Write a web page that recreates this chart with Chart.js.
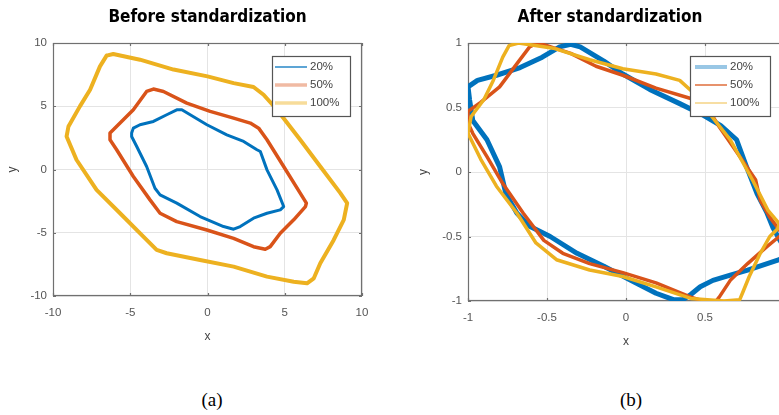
<!DOCTYPE html>
<html>
<head>
<meta charset="utf-8">
<script src="https://cdn.jsdelivr.net/npm/chart.js@4"></script>
<style>
  html, body { margin: 0; padding: 0; width: 779px; height: 415px; overflow: hidden; background: #fff; }
  #wrap { position: relative; width: 779px; height: 415px; overflow: hidden; }
  canvas { position: absolute; top: 0; }
  #left { left: 0; }
  #right { left: 390px; }
  .caption { position: absolute; top: 389px; line-height: 22px; font-family: "Liberation Serif", serif; font-size: 19px; color: #000; transform: translateX(-50%); }
</style>
</head>
<body>
<div id="wrap">
  <canvas id="left" width="390" height="360"></canvas>
  <canvas id="right" width="440" height="360"></canvas>
  <div class="caption" id="capA" style="left:212px"></div>
  <div class="caption" id="capB" style="left:631px"></div>
</div>
<script>
// series
const seriesLabels = ["20%", "50%", "100%"];
const seriesColors = ["#0072BD", "#D95319", "#EDB120"];
const panelTitles = ["Before standardization", "After standardization"];
const panelCaptions = ["(a)", "(b)"];

// ticks
const beforeTicks = [-10, -5, 0, 5, 10];
const afterTicks = [-1, -0.5, 0, 0.5, 1];

// closed trajectories, raw
const before20 = [[-4.91,2.88],[-4.8,3.27],[-4.37,3.54],[-3.5,3.8],[-2.64,4.33],[-1.99,4.72],[-1.66,4.72],[-1.12,4.33],[-0.04,3.54],[1.25,2.74],[2.34,2.22],[3.2,1.56],[3.42,1.42],[3.85,-0.03],[4.5,-1.61],[4.93,-2.93],[4.71,-3.19],[3.85,-3.46],[2.98,-3.85],[2.12,-4.51],[1.69,-4.72],[1.04,-4.51],[-0.48,-3.72],[-1.99,-2.66],[-3.07,-2.0],[-3.4,-1.48],[-3.94,0.24],[-4.58,1.82],[-4.91,2.61],[-4.91,2.88]];
const before50 = [[-6.31,2.88],[-5.66,3.67],[-4.8,4.72],[-3.94,6.17],[-3.5,6.36],[-2.85,6.17],[-1.34,5.25],[0.17,4.59],[1.69,4.06],[2.77,3.67],[3.31,3.27],[3.85,2.35],[4.93,0.24],[6.0,-1.87],[6.4,-2.66],[6.34,-2.93],[5.58,-3.98],[4.71,-5.04],[4.06,-6.1],[3.74,-6.3],[2.98,-6.1],[1.69,-5.44],[-0.04,-4.78],[-1.99,-4.12],[-3.07,-3.46],[-3.72,-2.4],[-4.8,-0.55],[-5.88,1.56],[-6.31,2.35],[-6.31,2.88]];
const before100 = [[-6.53,9.0],[-6.1,9.13],[-4.37,8.68],[-2.2,7.9],[0,7.36],[1.69,6.83],[2.98,6.52],[3.63,5.91],[4.5,4.72],[6.0,2.35],[7.3,0.24],[8.6,-1.87],[9.04,-2.66],[8.82,-3.98],[8.17,-5.57],[7.3,-7.41],[6.88,-8.6],[6.44,-9.0],[5.58,-8.87],[3.85,-8.47],[1.69,-7.68],[-0.48,-7.15],[-2.64,-6.62],[-3.29,-6.36],[-4.15,-5.3],[-5.66,-3.46],[-7.18,-1.61],[-8.48,0.77],[-9.12,2.61],[-9.0,3.4],[-8.26,4.99],[-7.6,6.3],[-6.96,8.15],[-6.53,9.0]];

// closed trajectories, standardized
const after20 = [[-1.0,0.66],[-0.94,0.71],[-0.82,0.75],[-0.67,0.81],[-0.53,0.89],[-0.42,0.97],[-0.35,0.99],[-0.29,0.97],[-0.14,0.86],[-0.02,0.76],[0.15,0.64],[0.34,0.53],[0.49,0.44],[0.6,0.36],[0.7,0.25],[0.76,0.05],[0.83,-0.17],[0.89,-0.31],[0.93,-0.43],[0.97,-0.52],[1.0,-0.58],[1.0,-0.66],[0.97,-0.68],[0.87,-0.72],[0.77,-0.76],[0.66,-0.8],[0.55,-0.84],[0.47,-0.89],[0.41,-0.95],[0.36,-0.99],[0.3,-0.99],[0.19,-0.94],[0.03,-0.84],[-0.14,-0.73],[-0.31,-0.63],[-0.48,-0.5],[-0.61,-0.42],[-0.69,-0.32],[-0.76,-0.17],[-0.8,0.04],[-0.88,0.25],[-0.97,0.4],[-0.99,0.56],[-1.0,0.66]];
const after50 = [[-1.0,0.47],[-0.92,0.54],[-0.8,0.66],[-0.69,0.84],[-0.61,0.97],[-0.56,1.0],[-0.5,0.98],[-0.35,0.92],[-0.19,0.82],[-0.02,0.75],[0.19,0.65],[0.41,0.57],[0.51,0.51],[0.59,0.35],[0.72,0.12],[0.82,-0.06],[0.85,-0.22],[0.91,-0.35],[0.97,-0.45],[1.0,-0.48],[0.97,-0.5],[0.89,-0.58],[0.77,-0.71],[0.66,-0.84],[0.59,-0.97],[0.57,-1.0],[0.49,-1.0],[0.41,-0.97],[0.19,-0.86],[-0.02,-0.78],[-0.23,-0.71],[-0.4,-0.63],[-0.52,-0.53],[-0.65,-0.32],[-0.78,-0.09],[-0.88,0.12],[-0.97,0.3],[-1.0,0.38],[-1.0,0.47]];
const after100 = [[-1.0,0.3],[-0.98,0.43],[-0.9,0.56],[-0.84,0.71],[-0.78,0.89],[-0.74,0.98],[-0.68,1.0],[-0.46,0.96],[-0.23,0.87],[-0.02,0.8],[0.19,0.76],[0.34,0.71],[0.43,0.61],[0.53,0.45],[0.66,0.25],[0.8,-0.06],[0.9,-0.3],[0.97,-0.4],[0.96,-0.44],[0.91,-0.5],[0.85,-0.63],[0.78,-0.81],[0.74,-0.93],[0.72,-0.99],[0.62,-1.0],[0.41,-0.98],[0.19,-0.89],[-0.02,-0.81],[-0.23,-0.76],[-0.44,-0.68],[-0.57,-0.55],[-0.69,-0.32],[-0.82,-0.11],[-0.92,0.1],[-1.0,0.3]];

const tickFont = { family: '"Liberation Sans", Arial, sans-serif', size: 11.5 };
const tickColor = "#555";

// axes box with inward tick marks, under the curves
const framePlugin = {
  id: "frame",
  beforeDatasetsDraw(chart) {
    const { ctx, chartArea: a, scales: { x, y } } = chart;
    ctx.save();
    ctx.strokeStyle = "#707070";
    ctx.lineWidth = 1.2;
    ctx.strokeRect(a.left + 0.5, a.top + 0.5, a.width - 1, a.height - 1);
    ctx.beginPath();
    x.ticks.forEach((t) => {
      const px = Math.round(x.getPixelForValue(t.value)) + 0.5;
      ctx.moveTo(px, a.bottom); ctx.lineTo(px, a.bottom - 3);
      ctx.moveTo(px, a.top); ctx.lineTo(px, a.top + 3);
    });
    y.ticks.forEach((t) => {
      const py = Math.round(y.getPixelForValue(t.value)) + 0.5;
      ctx.moveTo(a.left, py); ctx.lineTo(a.left + 3, py);
      ctx.moveTo(a.right, py); ctx.lineTo(a.right - 3, py);
    });
    ctx.stroke();
    ctx.restore();
  },
};

// boxed legend in the top right corner of the axes
const legendPlugin = {
  id: "boxLegend",
  afterDatasetsDraw(chart, args, opts) {
    const { ctx, chartArea: a } = chart;
    const left = a.right - opts.inset - opts.width;
    const top = a.top + 13;
    ctx.save();
    ctx.fillStyle = "#fff";
    ctx.fillRect(left, top, opts.width, 61);
    ctx.strokeStyle = "#555";
    ctx.lineWidth = 1.2;
    ctx.strokeRect(left + 0.5, top + 0.5, opts.width - 1, 60);
    chart.data.datasets.forEach((ds, i) => {
      const yy = top + 11 + i * 18;
      ctx.globalAlpha = opts.alpha[i];
      ctx.strokeStyle = ds.borderColor;
      ctx.lineWidth = opts.widths[i];
      ctx.beginPath();
      ctx.moveTo(left + opts.lineStart, yy);
      ctx.lineTo(left + opts.lineStart + 32, yy);
      ctx.stroke();
      ctx.globalAlpha = 1;
      ctx.fillStyle = "#444";
      ctx.font = "11.5px " + tickFont.family;
      ctx.textBaseline = "middle";
      ctx.fillText(ds.label, left + opts.lineStart + 35, yy);
    });
    ctx.restore();
  },
};

function axis(ticks, extra) {
  return Object.assign({
    type: "linear",
    min: ticks[0],
    max: ticks[ticks.length - 1],
    afterBuildTicks: (s) => { s.ticks = ticks.map((v) => ({ value: v })); },
    grid: { color: "#e4e4e4", drawTicks: false },
    border: { display: false },
  }, extra);
}

function makePanel(canvas, series, opts) {
  const scales = {
    x: axis(opts.ticks, {
      afterFit: (s) => { s.height = opts.xHeight; },
      ticks: { color: tickColor, font: tickFont, padding: 10, maxRotation: 0, callback: (v) => String(v) },
      title: { display: true, text: "x", color: "#444", font: { family: tickFont.family, size: 12 }, padding: { top: 0, bottom: opts.xTitlePad } },
    }),
    y: axis(opts.ticks, {
      afterFit: (s) => { s.width = opts.yWidth; },
      ticks: { color: tickColor, font: tickFont, padding: 6, callback: (v) => String(v) },
      title: { display: true, text: "y", color: "#444", font: { family: tickFont.family, size: 12 }, padding: { top: opts.yTitlePad, bottom: 0 } },
    }),
  };
  // empty strip on the right, so the title centres over the whole panel
  if (opts.rightGap) {
    scales.gap = {
      type: "linear", position: "right", display: true,
      grid: { display: false }, border: { display: false }, ticks: { display: false },
      afterFit: (s) => { s.width = opts.rightGap; },
    };
  }
  return new Chart(canvas, {
    type: "scatter",
    data: {
      datasets: series.map((pts, i) => ({
        label: seriesLabels[i],
        data: pts.map((p) => ({ x: p[0], y: p[1] })),
        showLine: true,
        borderColor: seriesColors[i],
        borderWidth: opts.lineWidths[i],
        borderJoinStyle: "round",
        borderCapStyle: "round",
        pointRadius: 0,
        pointHoverRadius: 0,
        tension: 0,
        order: 3 - i,
      })),
    },
    options: {
      responsive: false,
      animation: false,
      devicePixelRatio: 1,
      layout: { padding: { left: 0, top: 0, bottom: 0, right: opts.padRight } },
      plugins: {
        legend: { display: false },
        tooltip: { enabled: false },
        title: {
          display: true,
          text: opts.title,
          fullSize: opts.titleFull,
          color: "#000",
          font: { family: '"DejaVu Sans Condensed", "DejaVu Sans", sans-serif', weight: "bold", size: 17 },
          padding: { top: 7, bottom: 15.6 },
        },
        boxLegend: opts.legend,
      },
      scales: scales,
    },
    plugins: [framePlugin, legendPlugin],
  });
}

makePanel(document.getElementById("left"), [before20, before50, before100], {
  title: panelTitles[0],
  titleFull: false,
  ticks: beforeTicks,
  padRight: 28,
  xHeight: 64,
  yWidth: 53,
  xTitlePad: 16,
  yTitlePad: 5,
  lineWidths: [3, 3.5, 4],
  legend: { inset: 11, width: 79, lineStart: 3, widths: [1.5, 3.5, 3.5], alpha: [0.85, 0.4, 0.45] },
});

makePanel(document.getElementById("right"), [after20, after50, after100], {
  title: panelTitles[1],
  titleFull: true,
  ticks: afterTicks,
  padRight: 0,
  rightGap: 46,
  xHeight: 59,
  yWidth: 78,
  xTitlePad: 11,
  yTitlePad: 26,
  lineWidths: [5, 3.5, 3.5],
  legend: { inset: 13, width: 81, lineStart: 5, widths: [4, 1.5, 1.5], alpha: [0.4, 0.85, 0.55] },
});

document.getElementById("capA").textContent = panelCaptions[0];
document.getElementById("capB").textContent = panelCaptions[1];
</script>
</body>
</html>
